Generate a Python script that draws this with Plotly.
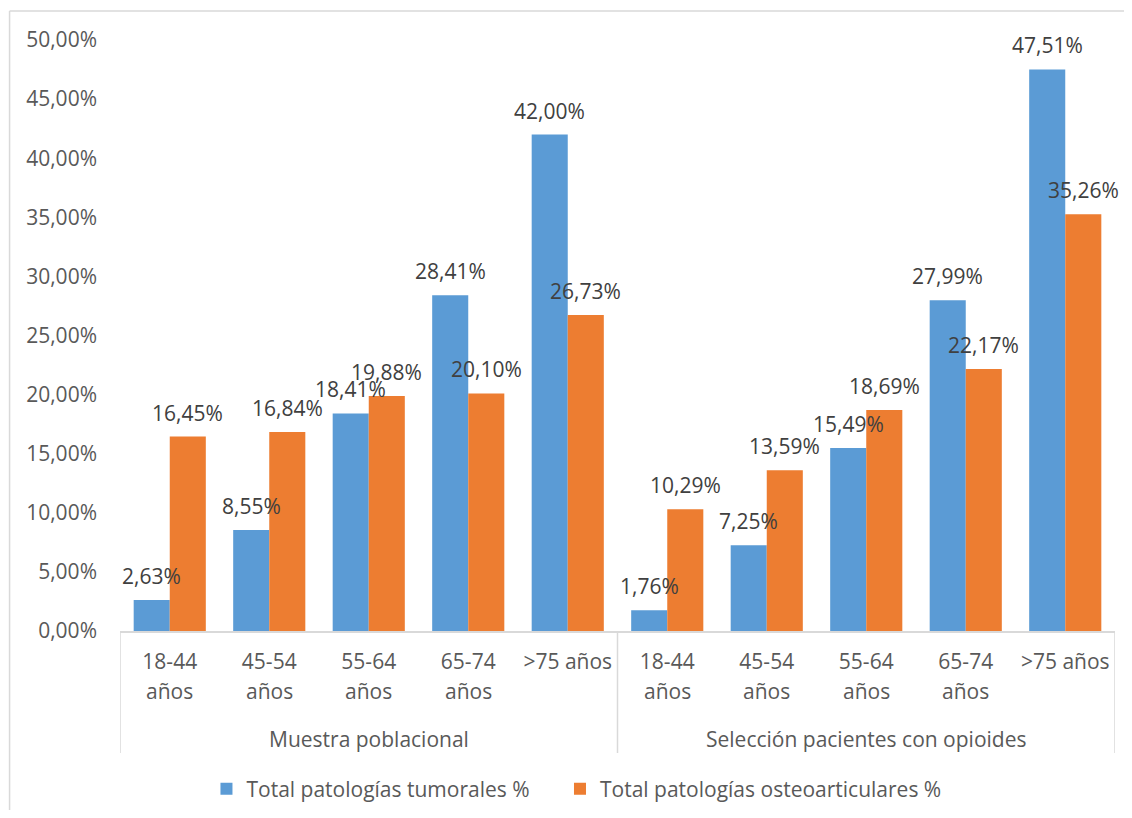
import plotly.graph_objects as go

# ---- data ----
groups = ["Muestra poblacional", "Selección pacientes con opioides"]
cat_line1 = ["18-44", "45-54", "55-64", "65-74", ">75 años"]
cat_line2 = ["años", "años", "años", "años", ""]
series_names = ["Total patologías tumorales %", "Total patologías osteoarticulares %"]
tumorales = [2.63, 8.55, 18.41, 28.41, 42.00, 1.76, 7.25, 15.49, 27.99, 47.51]
osteoarticulares = [16.45, 16.84, 19.88, 20.10, 26.73, 10.29, 13.59, 18.69, 22.17, 35.26]
y_ticks = [0, 5, 10, 15, 20, 25, 30, 35, 40, 45, 50]

colors = ["#5B9BD5", "#ED7D31"]
FONT = "Open Sans"
TXT = "#595959"
LBL = "#404040"
FS = 21

n_per = len(cat_line1)
xs = list(range(len(groups) * n_per))
ticktext = cat_line1 * len(groups)
line2 = cat_line2 * len(groups)

fig = go.Figure()
legend_ids = ["legend", "legend2"]
for name, vals, col, lg in zip(series_names, [tumorales, osteoarticulares], colors, legend_ids):
    fig.add_trace(go.Bar(x=xs, y=vals, name=name, legend=lg,
                         marker=dict(color=col, line=dict(width=0)), hoverinfo="skip"))

annotations = []
# data labels
n_series = 2
bar_frac = 1 - 0.275
for si, vals in enumerate([tumorales, osteoarticulares]):
    off = (si - (n_series - 1) / 2) * bar_frac / n_series
    for x, v in zip(xs, vals):
        annotations.append(dict(x=x + off, y=v, xref="x", yref="y",
                                text=f"{v:.2f}%".replace(".", ","), showarrow=False,
                                yanchor="middle", yshift=24,
                                font=dict(family=FONT, size=FS, color=LBL)))
# second line of category labels
for x, t in zip(xs, line2):
    if t:
        annotations.append(dict(x=x, y=0, xref="x", yref="y", text=t, showarrow=False,
                                yanchor="middle", yshift=-60,
                                font=dict(family=FONT, size=FS, color=TXT)))
# group labels
for gi, g in enumerate(groups):
    annotations.append(dict(x=gi * n_per + (n_per - 1) / 2, y=0, xref="x", yref="y", text=g,
                            showarrow=False, yanchor="middle", yshift=-108,
                            font=dict(family=FONT, size=FS, color=TXT)))

shapes = []
LC = "#D9D9D9"
for gi in range(len(groups) + 1):
    xb = gi * n_per - 0.5
    shapes.append(dict(type="line", xref="x", yref="paper", x0=xb, x1=xb, y0=0, y1=-0.2064,
                       line=dict(color=LC, width=1.5)))
# chart-area border (top & left)
shapes.append(dict(type="line", xref="paper", yref="paper", x0=-0.111, x1=1.02,
                   y0=1.049, y1=1.049, line=dict(color=LC, width=1.5)))
shapes.append(dict(type="line", xref="paper", yref="paper", x0=-0.111, x1=-0.111,
                   y0=1.049, y1=-0.35, line=dict(color=LC, width=1.5)))

leg_common = dict(orientation="h", xanchor="left", yref="container", y=0.0262,
                  yanchor="middle",
                  font=dict(family=FONT, size=FS, color=TXT), itemclick=False)

fig.update_layout(
    width=1116, height=802,
    margin=dict(l=112, r=9, t=32, b=179),
    paper_bgcolor="white", plot_bgcolor="white",
    barmode="group", bargap=0.275, bargroupgap=0,
    separators=",.",
    font=dict(family=FONT, size=FS, color=TXT),
    showlegend=True,
    legend=dict(x=0.0869, **leg_common),
    legend2=dict(x=0.4422, **leg_common),
    annotations=annotations,
    shapes=shapes,
    xaxis=dict(range=[-0.5, len(xs) - 0.5], tickmode="array", tickvals=xs, ticktext=ticktext,
               showgrid=False, zeroline=False, showline=True, linecolor=LC, linewidth=1.5,
               ticks="", ticklabelstandoff=11, tickfont=dict(family=FONT, size=FS, color=TXT)),
    yaxis=dict(range=[0, 50], tickmode="array", tickvals=y_ticks,
               ticktext=[f"{v:.2f}%".replace(".", ",") for v in y_ticks],
               showgrid=False, zeroline=False, showline=False, ticks="",
               ticklabelstandoff=22, tickfont=dict(family=FONT, size=FS, color=TXT)),
)

fig.write_html("out.html")
